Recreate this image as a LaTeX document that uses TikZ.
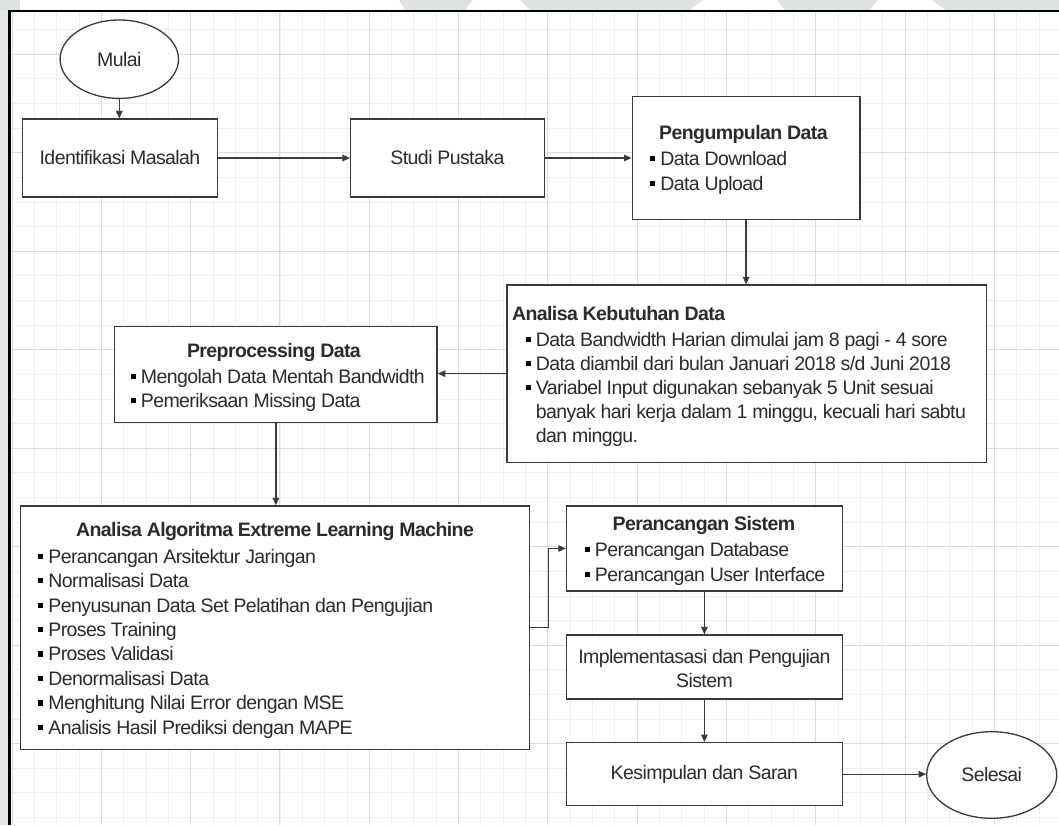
\documentclass[tikz,border=0pt]{standalone}
\usepackage{fontspec}
\setmainfont[LetterSpace=-3]{Liberation Sans}
\usetikzlibrary{arrows.meta,shapes.geometric}
\definecolor{gridminor}{HTML}{EEEEEE}
\definecolor{gridmajor}{HTML}{DCDCDC}
\definecolor{boxcol}{HTML}{3A3A3A}
\definecolor{txtcol}{HTML}{2B2B2B}
\definecolor{bandgray}{HTML}{E4E6E8}
\definecolor{wmark}{HTML}{DFE3DF}
\newcommand{\bsq}{{\color{black}\raisebox{4.3pt}{\rule{5.2pt}{5.2pt}}}\hspace{5pt}}
\begin{document}
\begin{tikzpicture}[x=1pt,y=-1pt,
  box/.style={draw=boxcol, line width=1.3pt, fill=white, rectangle, inner sep=0pt, text=txtcol, font=\fontsize{19.5}{24.5}\selectfont, align=center},
  oval/.style={draw=boxcol, line width=1.3pt, fill=white, ellipse, inner sep=0pt, text=txtcol, font=\fontsize{19.5}{24.5}\selectfont},
  txt/.style={inner sep=0pt, text=txtcol, font=\fontsize{19.5}{24.5}\selectfont},
  ttl/.style={inner sep=0pt, text=txtcol, font=\fontsize{19.5}{24.5}\selectfont\bfseries},
  arr/.style={draw=boxcol, line width=1.3pt, -{Triangle[length=7.5pt,width=6.5pt]}}
]
\useasboundingbox (0,0) rectangle (1059,825);
% background and frame
\fill[white] (0,0) rectangle (1059,825);
\foreach \k in {0,...,47} \draw[gridminor, line width=0.9pt] ({12+22.33*\k},11) -- ({12+22.33*\k},825);
\foreach \j in {-1,...,31} \draw[gridminor, line width=0.9pt] (9.5,{54.3+24.62*\j}) -- (1059,{54.3+24.62*\j});
\foreach \k in {0,4,...,44} \draw[gridmajor, line width=1pt] ({12+22.33*\k},11) -- ({12+22.33*\k},825);
\foreach \j in {0,4,...,28} \draw[gridmajor, line width=1pt] (9.5,{54.3+24.62*\j}) -- (1059,{54.3+24.62*\j});
\fill[bandgray] (0,0) rectangle (8.3,825);
\fill[wmark] (0,0) rectangle (20,9.8);
\fill[wmark] (399,0) -- (473,0) -- (465,9.8) -- (405,9.8) -- cycle;
\fill[wmark] (520,0) -- (703,0) -- (690,9.8) -- (530,9.8) -- cycle;
\fill[wmark] (777,0) -- (878,0) -- (870,9.8) -- (785,9.8) -- cycle;
\fill[wmark] (932,0) -- (1059,0) -- (1059,9.8) -- (945,9.8) -- cycle;
\draw[black, line width=2.5pt] (9.5,825) -- (9.5,11) -- (1059,11);

% shapes
\node[oval, minimum width=118.4pt, minimum height=78.4pt] (mulai) at (119.3,59.2) {Mulai};
\node[box, minimum width=194.8pt, minimum height=78pt] (ident) at (120,158) {Identifikasi Masalah};
\node[box, minimum width=193.6pt, minimum height=78pt] (studi) at (447.4,158) {Studi Pustaka};
\node[box, minimum width=227.8pt, minimum height=122.6pt] (peng) at (746.1,158) {};
\node[box, minimum width=479.5pt, minimum height=177.3pt] (keb) at (746.85,373.65) {};
\node[box, minimum width=322.5pt, minimum height=96pt] (prep) at (275.85,374.7) {};
\node[box, minimum width=509.2pt, minimum height=243.3pt] (elm) at (275,627.65) {};
\node[box, minimum width=276pt, minimum height=85pt] (sistem) at (704.4,548.5) {};
\node[box, minimum width=276pt, minimum height=64pt] (impl) at (704.4,667) {};
\node[box, minimum width=276pt, minimum height=63pt] (kes) at (704.4,774.2) {Kesimpulan dan Saran};
\node[oval, minimum width=130pt, minimum height=86.6pt] (selesai) at (991.7,775) {Selesai};

% Pengumpulan Data
\node[ttl, anchor=base] (pengT) at (743.4,139.7) {Pengumpulan Data};
\node[txt, anchor=base west] (peng1) at (650,165.3) {\bsq Data Download};
\node[txt, anchor=base west] (peng2) at (650,190.3) {\bsq Data Upload};

% Analisa Kebutuhan Data
\node[ttl, anchor=base west] (kebT) at (511.8,320.3) {Analisa Kebutuhan Data};
\node[txt, anchor=base west] (keb1) at (525.5,346) {\bsq Data Bandwidth Harian dimulai jam 8 pagi - 4 sore};
\node[txt, anchor=base west] (keb2) at (525.5,370.2) {\bsq Data diambil dari bulan Januari 2018 s/d Juni 2018};
\node[txt, anchor=base west] (keb3) at (525.5,394.4) {\bsq Variabel Input digunakan sebanyak 5 Unit sesuai};
\node[txt, anchor=base west] (keb4) at (535.7,418.6) {banyak hari kerja dalam 1 minggu, kecuali hari sabtu};
\node[txt, anchor=base west] (keb5) at (535.7,442.8) {dan minggu.};

% Preprocessing Data
\node[ttl, anchor=base] (prepT) at (273.9,357) {Preprocessing Data};
\node[txt, anchor=base west] (prep1) at (130.5,383) {\bsq Mengolah Data Mentah Bandwidth};
\node[txt, anchor=base west] (prep2) at (130.5,407.7) {\bsq Pemeriksaan Missing Data};

% ELM
\node[ttl, anchor=base] (elmT) at (275,536.3) {Analisa Algoritma Extreme Learning Machine};
\node[txt, anchor=base west] (elm1) at (38,563) {\bsq Perancangan Arsitektur Jaringan};
\node[txt, anchor=base west] (elm2) at (38,587.5) {\bsq Normalisasi Data};
\node[txt, anchor=base west] (elm3) at (38,612) {\bsq Penyusunan Data Set Pelatihan dan Pengujian};
\node[txt, anchor=base west] (elm4) at (38,636.4) {\bsq Proses Training};
\node[txt, anchor=base west] (elm5) at (38,660.9) {\bsq Proses Validasi};
\node[txt, anchor=base west] (elm6) at (38,685.3) {\bsq Denormalisasi Data};
\node[txt, anchor=base west] (elm7) at (38,709.8) {\bsq Menghitung Nilai Error dengan MSE};
\node[txt, anchor=base west] (elm8) at (38,734.3) {\bsq Analisis Hasil Prediksi dengan MAPE};

% Perancangan Sistem
\node[ttl, anchor=base] (sisT) at (703.9,530.3) {Perancangan Sistem};
\node[txt, anchor=base west] (sis1) at (584.5,556.3) {\bsq Perancangan Database};
\node[txt, anchor=base west] (sis2) at (584.5,581.3) {\bsq Perancangan User Interface};

% Implementasi
\node[txt, anchor=base] (imp1) at (704.4,663) {Implementasasi dan Pengujian};
\node[txt, anchor=base] (imp2) at (704.4,687.7) {Sistem};

% connectors
\draw[arr] (mulai.south) -- (mulai.south |- ident.north);
\draw[arr] (ident.east) -- (studi.west);
\draw[arr] (studi.east) -- (peng.west);
\draw[arr] (peng.south) -- (peng.south |- keb.north);
\draw[arr] (keb.west) -- (keb.west -| prep.east);
\draw[arr] (prep.south) -- (prep.south |- elm.north);
\draw[arr] (elm.east) -- ++(18,0) |- (sistem.west);
\draw[arr] (sistem.south) -- (impl.north);
\draw[arr] (impl.south) -- (kes.north);
\draw[arr] (kes.east) -- (kes.east -| selesai.west);
\end{tikzpicture}
\end{document}
